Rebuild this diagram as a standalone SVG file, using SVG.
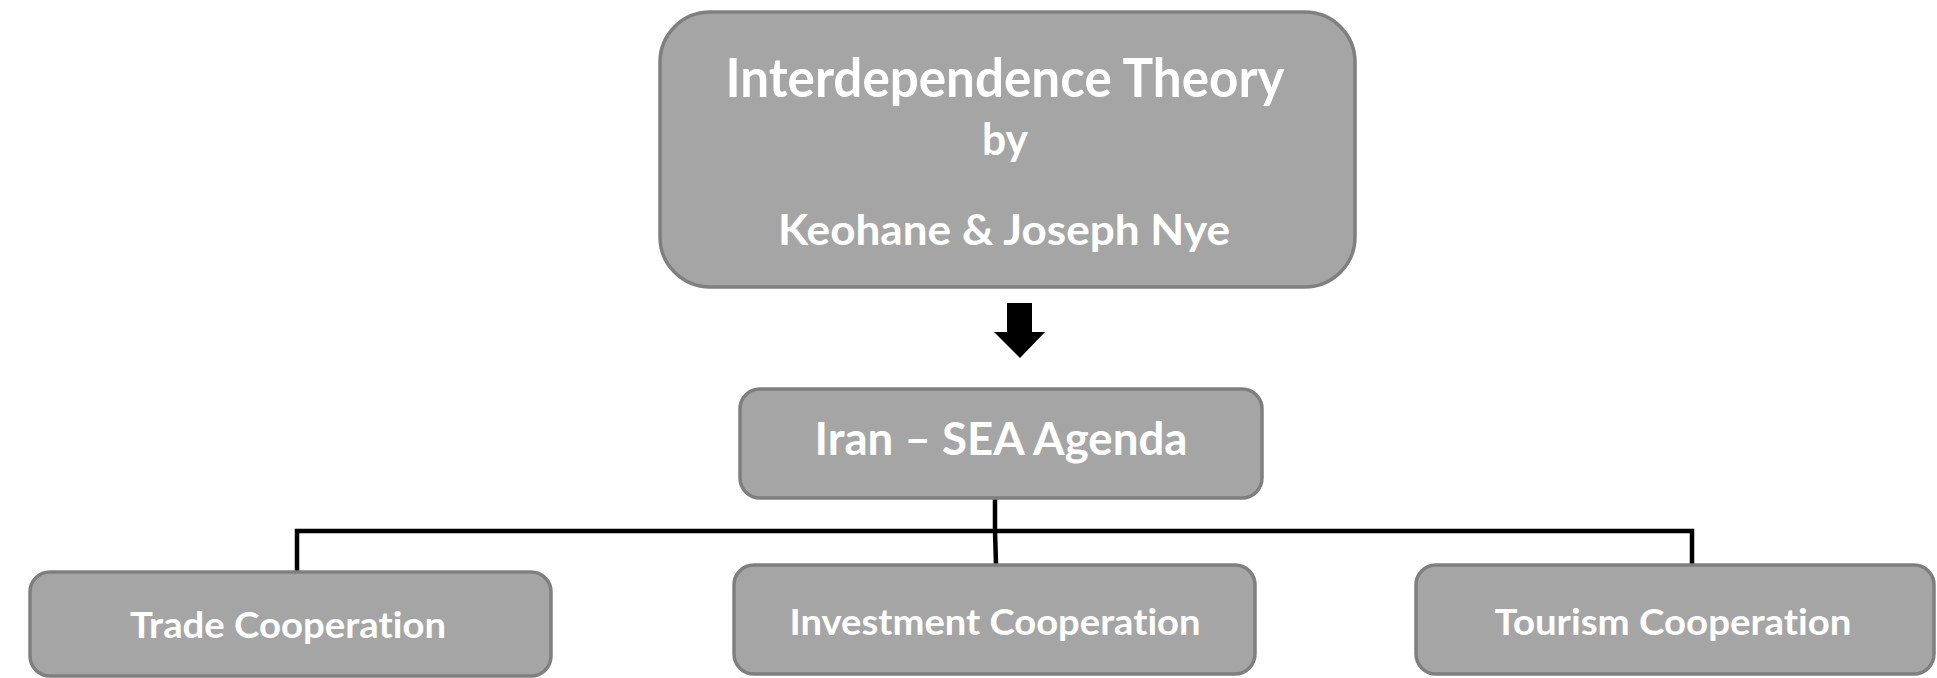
<svg xmlns="http://www.w3.org/2000/svg" width="1937" height="678" viewBox="0 0 1937 678">
  <style>
    .box { fill: #a5a5a5; stroke: #7f7f7f; stroke-width: 3.5; }
    .label { fill: #ffffff; font-family: Lato, "Open Sans", "Liberation Sans", sans-serif; font-weight: 700; text-anchor: middle; font-variant-ligatures: none; }
    .wire { fill: none; stroke: #000000; stroke-width: 4.5; stroke-linecap: square; stroke-linejoin: miter; }
  </style>
  <rect width="1937" height="678" fill="#ffffff"/>

  <!-- connectors -->
  <g id="connectors">
    <polygon points="1007,303 1032,303 1032,332 1045,332 1020,358 994,332 1007,332" fill="#000000"/>
    <path class="wire" d="M995,498 L995,531 M297,570 L297,531 L1692,531 L1692,564 M995,531 L996,564"/>
  </g>

  <g id="node-theory">
    <rect class="box" x="660" y="12" width="695" height="275" rx="50" ry="50"/>
    <text class="label" x="1005" y="97" font-size="53" textLength="559" lengthAdjust="spacingAndGlyphs">Interdependence Theory</text>
    <text class="label" x="1005" y="155" font-size="43" textLength="46" lengthAdjust="spacingAndGlyphs">by</text>
    <text class="label" x="1004" y="245" font-size="42" textLength="452" lengthAdjust="spacingAndGlyphs">Keohane &amp; Joseph Nye</text>
  </g>

  <g id="node-agenda">
    <rect class="box" x="740" y="389" width="522" height="109" rx="20" ry="20"/>
    <text class="label" x="1001" y="455" font-size="45" textLength="373" lengthAdjust="spacingAndGlyphs">Iran – SEA Agenda</text>
  </g>

  <g id="node-trade">
    <rect class="box" x="30" y="572" width="521" height="104" rx="20" ry="20"/>
    <text class="label" x="288" y="638" font-size="37" textLength="316" lengthAdjust="spacingAndGlyphs">Trade Cooperation</text>
  </g>

  <g id="node-investment">
    <rect class="box" x="734" y="565" width="521" height="109" rx="20" ry="20"/>
    <text class="label" x="995" y="635" font-size="37" textLength="411" lengthAdjust="spacingAndGlyphs">Investment Cooperation</text>
  </g>

  <g id="node-tourism">
    <rect class="box" x="1416" y="565" width="518" height="109" rx="20" ry="20"/>
    <text class="label" x="1673" y="635" font-size="37" textLength="357" lengthAdjust="spacingAndGlyphs">Tourism Cooperation</text>
  </g>
</svg>
